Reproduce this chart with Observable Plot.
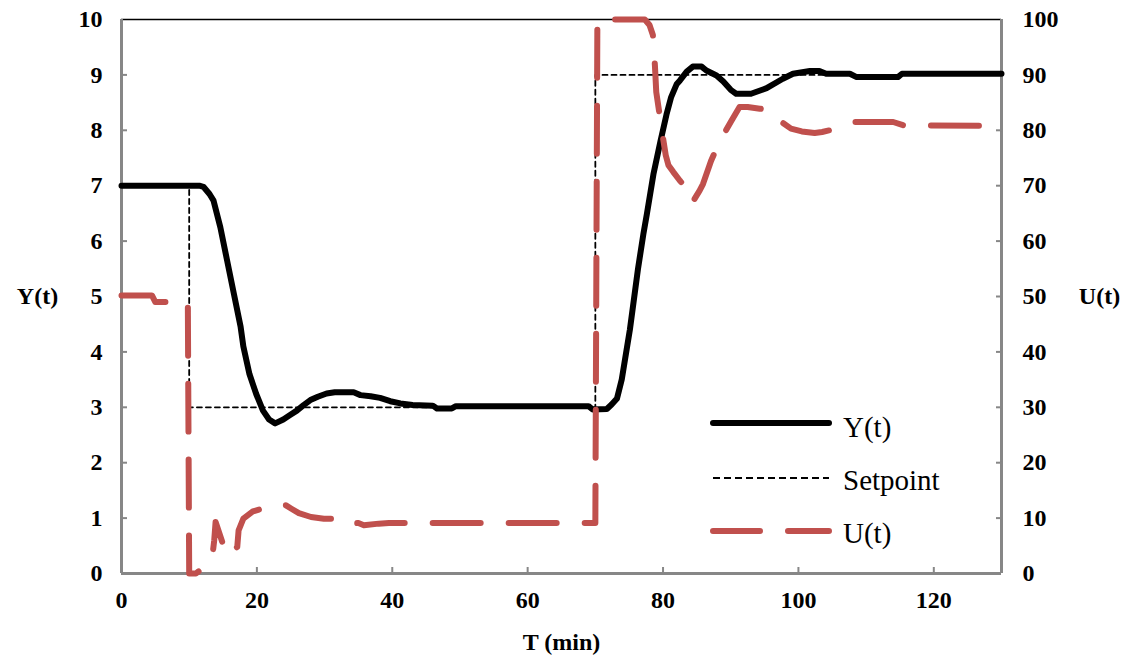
<!DOCTYPE html>
<html><head><meta charset="utf-8">
<script src="https://cdn.jsdelivr.net/npm/d3@7"></script>
<script src="https://cdn.jsdelivr.net/npm/@observablehq/plot@0.6"></script>
<style>
body{margin:0;background:#fff;}
#wrap{position:relative;width:1135px;height:659px;}
#legend{position:absolute;left:0;top:0;pointer-events:none;}
</style></head><body><div id="wrap"></div>
<script>
// ---- Data ----
const yT = [0,11.5,12.1,13.0,13.6,14.6,15.6,16.6,17.6,18.0,18.9,19.9,20.9,21.8,22.7,23.9,24.9,25.9,26.9,27.9,29.0,30.3,31.5,34.3,35.3,36.8,38.2,39.7,41.2,43.0,46.0,46.6,48.8,49.4,69.0,69.6,71.7,72.4,73.2,73.9,75.1,76.3,77.1,77.6,78.6,79.6,80.5,81.2,82.0,82.5,83.5,84.4,85.7,86.4,87.9,88.9,90.0,90.8,93.0,95.3,97.7,99.2,101.7,103.1,104.1,107.6,108.6,114.7,115.3,130];
const yV = [7.0,7.0,6.98,6.85,6.73,6.25,5.65,5.05,4.45,4.1,3.6,3.24,2.94,2.78,2.71,2.78,2.86,2.94,3.04,3.13,3.19,3.25,3.27,3.27,3.22,3.2,3.17,3.11,3.07,3.04,3.03,2.98,2.98,3.02,3.02,2.96,2.97,3.05,3.16,3.5,4.4,5.5,6.13,6.48,7.22,7.79,8.28,8.6,8.83,8.9,9.06,9.15,9.15,9.08,8.99,8.88,8.73,8.66,8.66,8.76,8.93,9.02,9.07,9.07,9.02,9.02,8.96,8.96,9.02,9.02];

const spT = [0,10,10,70,70,130];
const spV = [7,7,3,3,9,9];

const uT = [0,4.5,5.0,9.8,10.0,11.0,12.5,13.4,13.7,13.9,14.8,15.6,16.3,17.1,17.3,18.0,19.4,20.8,22.9,23.7,24.3,25.1,26.2,28.0,29.9,31.3,31.8,35.0,35.8,38.0,39.5,70.0,70.3,77.3,78.0,78.5,78.8,79.0,80.0,80.4,80.8,81.5,82.5,83.5,84.1,84.6,85.4,85.9,87.1,88.0,88.6,90.0,91.3,92.5,94.3,95.5,96.2,97.5,98.9,100.5,102.4,103.5,104.6,106.0,108.1,114.0,115.5,130];
const uV = [50.2,50.2,49.0,49.0,0,0,1.5,2.9,6.0,9.3,6.0,3.2,3.8,4.8,7.8,9.9,11.2,11.7,11.7,12.3,12.3,11.7,10.9,10.2,9.9,9.9,9.2,9.1,8.7,9.0,9.1,9.1,100,100,99,97.2,91.7,86.9,78.6,75.5,73.7,72.5,70.9,69.5,67.0,67.5,69.1,70.3,74.5,77.0,78.5,81.5,84.2,84.2,83.9,83.8,83.0,81.5,80.3,79.8,79.5,79.7,80.0,80.7,81.5,81.5,80.9,80.8];

const xTickValues = [0,20,40,60,80,100,120];
const yTickValues = [0,1,2,3,4,5,6,7,8,9,10];
const uTickValues = [0,10,20,30,40,50,60,70,80,90,100];
const seriesNames = ["Y(t)","Setpoint","U(t)"];
const axisTitles = {x:"T (min)", y:"Y(t)", u:"U(t)"};

// ---- Build tables ----
const yData = yT.map((t,i)=>({t, v:yV[i]}));
const spData = spT.map((t,i)=>({t, v:spV[i]}));
const uData = uT.map((t,i)=>({t, v:uV[i]}));
const RED = "#C0504D";
const GRAY = "#878787";
const FONT = "'Liberation Serif','Times New Roman',serif";
const uMax = 100, yMax = 10;

const plot = Plot.plot({
  width: 1135, height: 659,
  marginLeft: 121, marginRight: 134, marginTop: 19, marginBottom: 86,
  x: {domain: [0,130]},
  y: {domain: [0,yMax]},
  style: {fontFamily: FONT, fontSize: "24px", fontWeight: "bold", color: "#000", background: "#fff"},
  marks: [
    // frame
    Plot.ruleY([yMax], {stroke: "#000", strokeWidth: 1.5}),
    Plot.ruleX([0, 130], {stroke: GRAY, strokeWidth: 3}),
    Plot.ruleY([0], {stroke: GRAY, strokeWidth: 3}),
    // inward ticks
    Plot.axisX(xTickValues.filter(d=>d>0), {tickSize: -6, text: null, stroke: GRAY, strokeWidth: 2, label: null}),
    Plot.axisY(yTickValues.filter(d=>d>0 && d<yMax), {anchor: "left", tickSize: -6, text: null, stroke: GRAY, strokeWidth: 2, label: null}),
    Plot.axisY(yTickValues.filter(d=>d>0 && d<yMax), {anchor: "right", tickSize: -6, text: null, stroke: GRAY, strokeWidth: 2, label: null}),
    // tick labels
    Plot.axisX(xTickValues, {tickSize: 0, tickPadding: 17, label: null, fill: "#000", tickFormat: d => String(d)}),
    Plot.axisY(yTickValues, {anchor: "left", tickSize: 0, tickPadding: 19, label: null, fill: "#000", tickFormat: d => String(d)}),
    Plot.axisY(yTickValues, {anchor: "right", tickSize: 0, tickPadding: 21, label: null, fill: "#000",
      tickFormat: (d,i) => String(uTickValues[i])}),
    // series
    Plot.line(yData, {x: "t", y: "v", stroke: "#000", strokeWidth: 6, strokeLinejoin: "round"}),
    Plot.line(spData, {x: "t", y: "v", stroke: "#000", strokeWidth: 1.8, strokeDasharray: "5,4"}),
    Plot.line(uData, {x: "t", y: d => d.v * yMax / uMax, stroke: RED, strokeWidth: 6,
      strokeDasharray: "48,28", strokeLinecap: "round", strokeLinejoin: "round"}),
    // axis titles
    Plot.text([axisTitles.y], {frameAnchor: "left", dx: -84, text: d=>d, textAnchor: "middle", lineAnchor: "middle", fontSize: 24, fontWeight: "bold", fill: "#000"}),
    Plot.text([axisTitles.u], {frameAnchor: "right", dx: 98, text: d=>d, textAnchor: "middle", lineAnchor: "middle", fontSize: 24, fontWeight: "bold", fill: "#000"}),
    Plot.text([axisTitles.x], {frameAnchor: "bottom", dy: 69, text: d=>d, textAnchor: "middle", lineAnchor: "middle", fontSize: 24, fontWeight: "bold", fill: "#000"})
  ]
});
const wrap = document.getElementById("wrap");
wrap.appendChild(plot);

// ---- Legend overlay ----
const ns = "http://www.w3.org/2000/svg";
const leg = document.createElementNS(ns, "svg");
leg.setAttribute("id","legend");
leg.setAttribute("width", 1135);
leg.setAttribute("height", 659);
const items = [
  {name: seriesNames[0], ly: 423, ty: 437, stroke: "#000", w: 6, dash: null, cap: "round"},
  {name: seriesNames[1], ly: 478, ty: 490, stroke: "#000", w: 2, dash: "7,4", cap: "butt"},
  {name: seriesNames[2], ly: 531, ty: 543, stroke: RED, w: 6, dash: "47,28", cap: "round"}
];
for (const it of items) {
  const l = document.createElementNS(ns, "line");
  l.setAttribute("x1", 713); l.setAttribute("x2", 829);
  l.setAttribute("y1", it.ly); l.setAttribute("y2", it.ly);
  l.setAttribute("stroke", it.stroke); l.setAttribute("stroke-width", it.w);
  l.setAttribute("stroke-linecap", it.cap);
  if (it.dash) l.setAttribute("stroke-dasharray", it.dash);
  leg.appendChild(l);
  const t = document.createElementNS(ns, "text");
  t.setAttribute("x", 843); t.setAttribute("y", it.ty);
  t.setAttribute("font-family", FONT); t.setAttribute("font-size", 29);
  t.setAttribute("fill", "#000");
  t.textContent = it.name;
  leg.appendChild(t);
}
wrap.appendChild(leg);
</script></body></html>
